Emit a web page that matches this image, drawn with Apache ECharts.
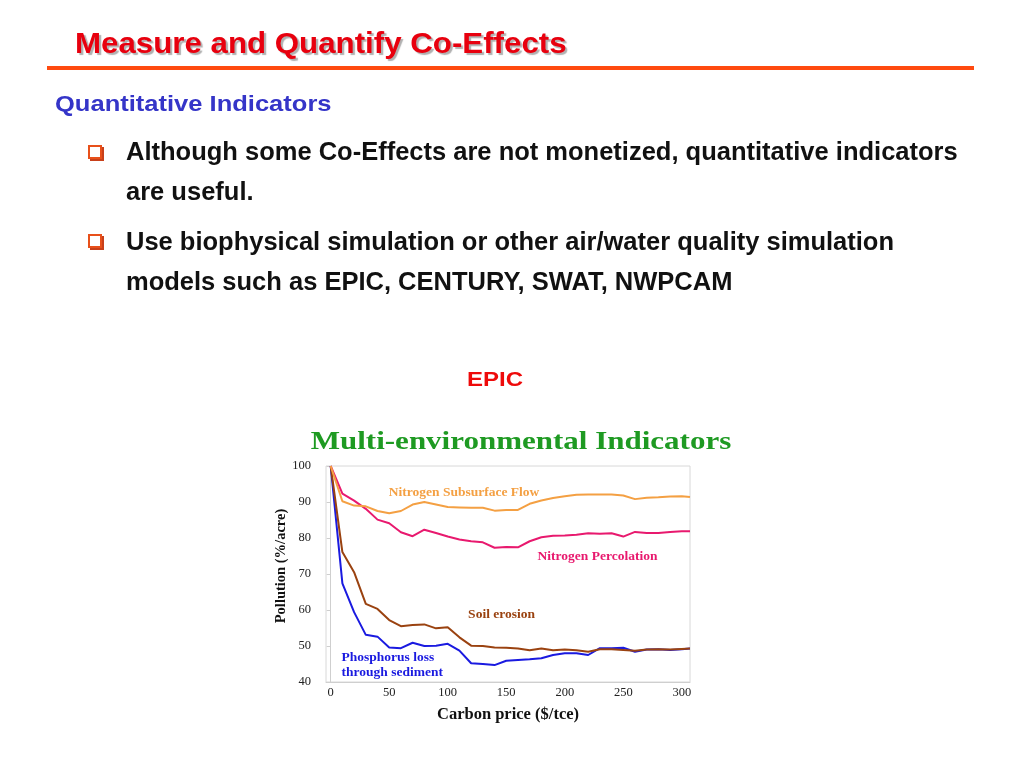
<!DOCTYPE html>
<html><head><meta charset="utf-8">
<script src="https://cdn.jsdelivr.net/npm/echarts@6/dist/echarts.min.js"></script>
<style>
html,body{margin:0;padding:0;background:#fff;width:1024px;height:768px;overflow:hidden;}
.t{position:absolute;white-space:nowrap;font-family:"Liberation Sans",Arial,sans-serif;font-weight:bold;transform-origin:0 0;}
.box{position:absolute;width:10px;height:10px;border:2px solid #e8501a;box-shadow:2px 2px 0 #c8401a;background:#fff;}
#chart{position:absolute;left:0;top:0;width:1024px;height:768px;}
</style></head><body>
<div id="chart"></div>
<div class="t" style="left:75px;top:27px;font-size:29px;color:#e8000e;text-shadow:2px 2px 1px #b0b0b0;transform:scaleX(1.078);">Measure and Quantify Co-Effects</div>
<div style="position:absolute;left:47px;top:66px;width:927px;height:4px;background:#ff4a10;"></div>
<div class="t" style="left:55px;top:91px;font-size:22px;color:#3535c8;transform:scaleX(1.16);">Quantitative Indicators</div>
<div class="box" style="left:88px;top:145px;"></div>
<div class="t" style="left:126px;top:131px;font-size:25.5px;color:#111;line-height:40px;">Although some Co-Effects are not monetized, quantitative indicators<br>are useful.</div>
<div class="box" style="left:88px;top:234px;"></div>
<div class="t" style="left:126px;top:221px;font-size:25.5px;color:#111;line-height:40px;">Use biophysical simulation or other air/water quality simulation<br>models such as EPIC, CENTURY, SWAT, NWPCAM</div>
<div class="t" style="left:467px;top:368px;font-size:20px;color:#ee0a0a;transform:scaleX(1.2);">EPIC</div>
<script>
var xValues = [0,10,20,30,40,50,60,70,80,90,100,110,120,130,140,150,160,170,180,190,200,210,220,230,240,250,260,270,280,290,300,307];
var nSubsurface = [100,90.2,89.0,88.8,87.5,86.9,87.5,89.3,90.0,89.3,88.6,88.5,88.4,88.4,87.6,87.8,87.8,89.5,90.4,91.1,91.6,92.0,92.1,92.1,92.1,91.8,90.8,91.2,91.3,91.5,91.6,91.4];
var nPercolation = [100,92.3,90.4,88.1,85.1,84.1,81.6,80.5,82.3,81.4,80.4,79.6,79.1,78.8,77.3,77.5,77.4,79.1,80.2,80.6,80.7,80.9,81.3,81.2,81.3,80.4,81.7,81.4,81.4,81.7,81.9,81.9];
var soilErosion = [100,76.1,70.5,61.7,60.3,57.2,55.5,55.8,56.0,54.9,55.2,52.4,50.1,50.0,49.6,49.5,49.3,48.8,49.3,48.8,49.0,48.8,48.4,49.1,49.1,48.9,48.7,49.0,49.1,49.0,49.2,49.3];
var phosphorus = [100,67.4,59.4,53.1,52.6,49.6,49.4,50.9,50.0,50.1,50.6,48.7,45.2,45.0,44.7,45.9,46.1,46.3,46.6,47.5,48.0,48.0,47.5,49.4,49.4,49.5,48.4,49.0,49.1,48.9,49.1,49.3];
var xTickValues = [0,50,100,150,200,250,300];
var seriesNames = ['Nitrogen Subsurface Flow','Nitrogen Percolation','Soil erosion','Phosphorus loss\nthrough sediment'];
var labelCoords = [[114,92.6],[228,74.8],[146,58.7],[5,44.7]];
var chartTitle = 'Multi-environmental Indicators';

function pairs(ys){return xValues.map(function(x,i){return [x,ys[i]];});}
var colors = ['#f4a043','#e8196e','#9a4210','#1a1ae0'];
var datas = [nSubsurface,nPercolation,soilErosion,phosphorus];
var serif = '"Liberation Serif","Times New Roman",serif';
var series = datas.map(function(d,i){
  return {
    type:'line', name:seriesNames[i], data:pairs(d), symbol:'none',
    lineStyle:{color:colors[i],width:2}, itemStyle:{color:colors[i]},
    z: 10-i,
    markPoint:{
      symbol:'circle', symbolSize:0, silent:true,
      data:[{coord:labelCoords[i], value:seriesNames[i]}],
      label:{show:true, formatter:seriesNames[i], color:colors[i], fontFamily:serif, fontWeight:'bold', fontSize:13.5,
        position: i===3 ? 'right' : 'inside', align: i===3 ? 'left' : 'center', lineHeight:15.5}
    }
  };
});
var chart = echarts.init(document.getElementById('chart'), null, {renderer:'canvas'});
chart.setOption({
  animation:false,
  graphic:[{type:'text', x:521, y:443, scaleX:1.24, silent:true,
    style:{text:chartTitle, font:'bold 25px ' + serif, fill:'#1e9a22', textAlign:'center', textVerticalAlign:'middle'}}],
  grid:{left:326, right:334, top:466, bottom:86, show:true, borderColor:'#d8d8d8', borderWidth:1},
  xAxis:{type:'value', min:-4, max:307,
    name:'Carbon price ($/tce)', nameLocation:'middle', nameGap:24,
    nameTextStyle:{fontFamily:serif, fontWeight:'bold', fontSize:16.5, color:'#111'},
    axisLine:{show:true, lineStyle:{color:'#cfcfcf'}},
    axisTick:{show:false},
    splitLine:{show:false},
    axisLabel:{customValues:xTickValues, fontFamily:serif, fontSize:12.5, color:'#222', margin:4}
  },
  yAxis:{type:'value', min:40, max:100, interval:10,
    name:'Pollution (%/acre)', nameLocation:'middle', nameGap:36, nameRotate:90,
    nameTextStyle:{fontFamily:serif, fontWeight:'bold', fontSize:14.5, color:'#111', padding:[0,0,0,16]},
    axisLine:{show:true, lineStyle:{color:'#cfcfcf'}},
    axisTick:{show:true, length:4, lineStyle:{color:'#cfcfcf'}},
    splitLine:{show:false},
    axisLabel:{fontFamily:serif, fontSize:12.5, color:'#222', margin:15}
  },
  series:series
});
</script>
</body></html>
